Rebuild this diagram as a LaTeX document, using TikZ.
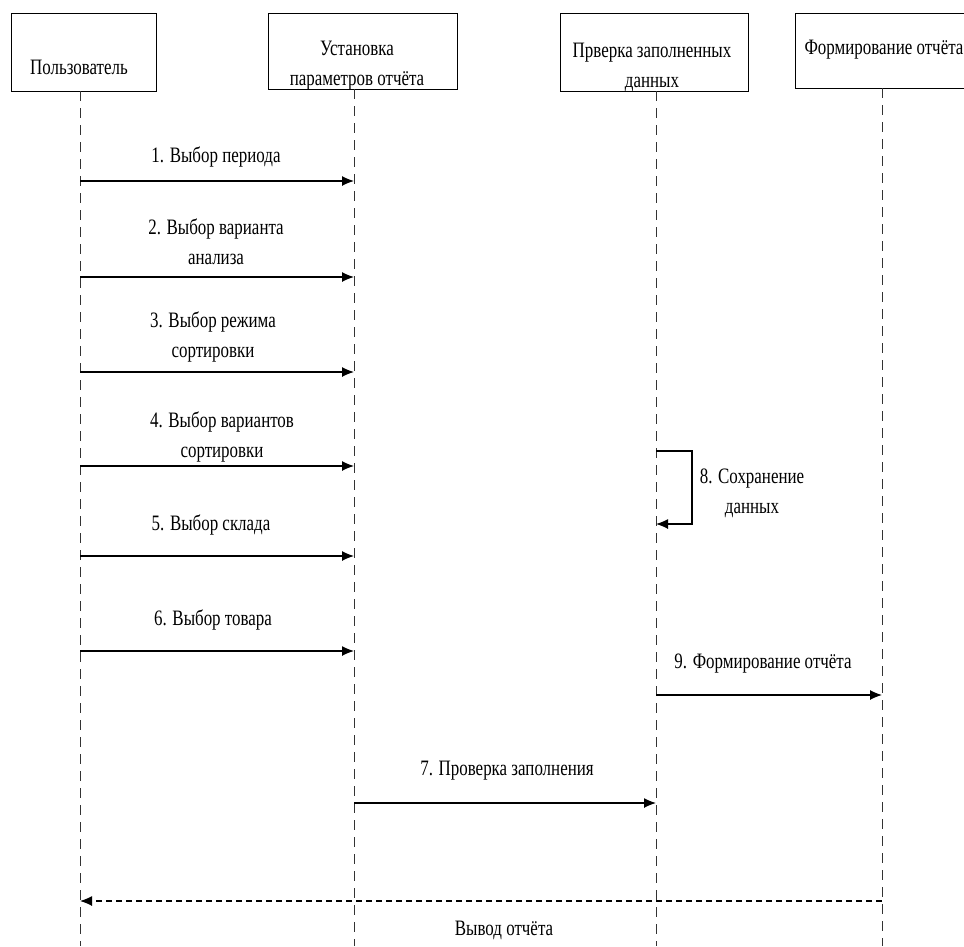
\documentclass[tikz,border=0pt]{standalone}
\usepackage{fontspec}
\setmainfont{Liberation Serif}[FakeStretch=0.77]
\usetikzlibrary{arrows.meta,positioning}

\tikzset{
  headbox/.style={draw, line width=0.9pt, inner sep=0pt},
  lifeline/.style={line width=0.8pt, black!80, dash pattern=on 10pt off 7pt},
  msg/.style={line width=1.2pt, -{Latex[length=12pt,width=10pt]}},
  reply/.style={line width=1.2pt, dash pattern=on 6pt off 4pt, -{Latex[length=12pt,width=10pt]}},
  txt/.style={font=\fontsize{22}{30}\selectfont, align=center, inner sep=1pt}
}

\begin{document}
\begin{tikzpicture}[x=1pt,y=-1pt]
\useasboundingbox (0,0) rectangle (964,946);

% Heads
\node[headbox, minimum width=145pt, minimum height=78pt] (user) at (83.5,52) {};
\node[headbox, minimum width=189pt, minimum height=76pt] (setup) at (362.5,51) {};
\node[headbox, minimum width=188pt, minimum height=78pt] (check) at (654,52) {};
\node[headbox, minimum width=172pt, minimum height=75pt] (report) at (881,50.5) {};

\node[txt] (userlbl) at (79,67) {Пользователь};
\node[txt] (setuplbl) at (357,66) {Установка\\параметров отчёта};
\node[txt] (checklbl) at (652,67) {Прверка заполненных\\данных};
\node[txt] (reportlbl) at (884,50) {Формирование отчёта};

% Lifelines
\coordinate (userend) at (80,946);
\coordinate (setupend) at (354,946);
\coordinate (checkend) at (656,946);
\coordinate (reportend) at (882,946);

\draw[lifeline] (userend |- user.south)--(userend);
\draw[lifeline] (setupend |- setup.south)--(setupend);
\draw[lifeline] (checkend |- check.south)--(checkend);
\draw[lifeline] (reportend |- report.south)--(reportend);

% Messages
\coordinate (u1) at (80,181); \coordinate (s1) at (354,181);
\coordinate (u2) at (80,277); \coordinate (s2) at (354,277);
\coordinate (u3) at (80,372); \coordinate (s3) at (354,372);
\coordinate (u4) at (80,466); \coordinate (s4) at (354,466);
\coordinate (u5) at (80,556); \coordinate (s5) at (354,556);
\coordinate (u6) at (80,651); \coordinate (s6) at (354,651);

\draw[msg] (u1)--(s1);
\draw[msg] (u2)--(s2);
\draw[msg] (u3)--(s3);
\draw[msg] (u4)--(s4);
\draw[msg] (u5)--(s5);
\draw[msg] (u6)--(s6);

\node[txt] (m1) at (216,157) {1. Выбор периода};
\node[txt] (m2) at (216,242) {2. Выбор варианта\\анализа};
\node[txt] (m3) at (213,337) {3. Выбор режима\\сортировки};
\node[txt] (m4) at (222,437) {4. Выбор вариантов\\сортировки};
\node[txt] (m5) at (211,525) {5. Выбор склада};
\node[txt] (m6) at (213,620) {6. Выбор товара};

% Self call
\coordinate (c8a) at (656,451);
\coordinate (c8b) at (692,451);
\coordinate (c8c) at (692,524);
\coordinate (c8d) at (656,524);
\draw[msg] (c8a)--(c8b)--(c8c)--(c8d);
\node[txt] (m8) at (752,493) {8. Сохранение\\данных};

\coordinate (c9) at (656,695); \coordinate (r9) at (882,695);
\draw[msg] (c9)--(r9);
\node[txt] (m9) at (763,664) {9. Формирование отчёта};

\coordinate (s7) at (354,803); \coordinate (c7) at (656,803);
\draw[msg] (s7)--(c7);
\node[txt] (m7) at (507,771) {7. Проверка заполнения};

% Return
\coordinate (rret) at (882,901); \coordinate (uret) at (80,901);
\draw[reply] (rret)--(uret);
\node[txt] (mret) at (504,930) {Вывод отчёта};

\end{tikzpicture}
\end{document}
